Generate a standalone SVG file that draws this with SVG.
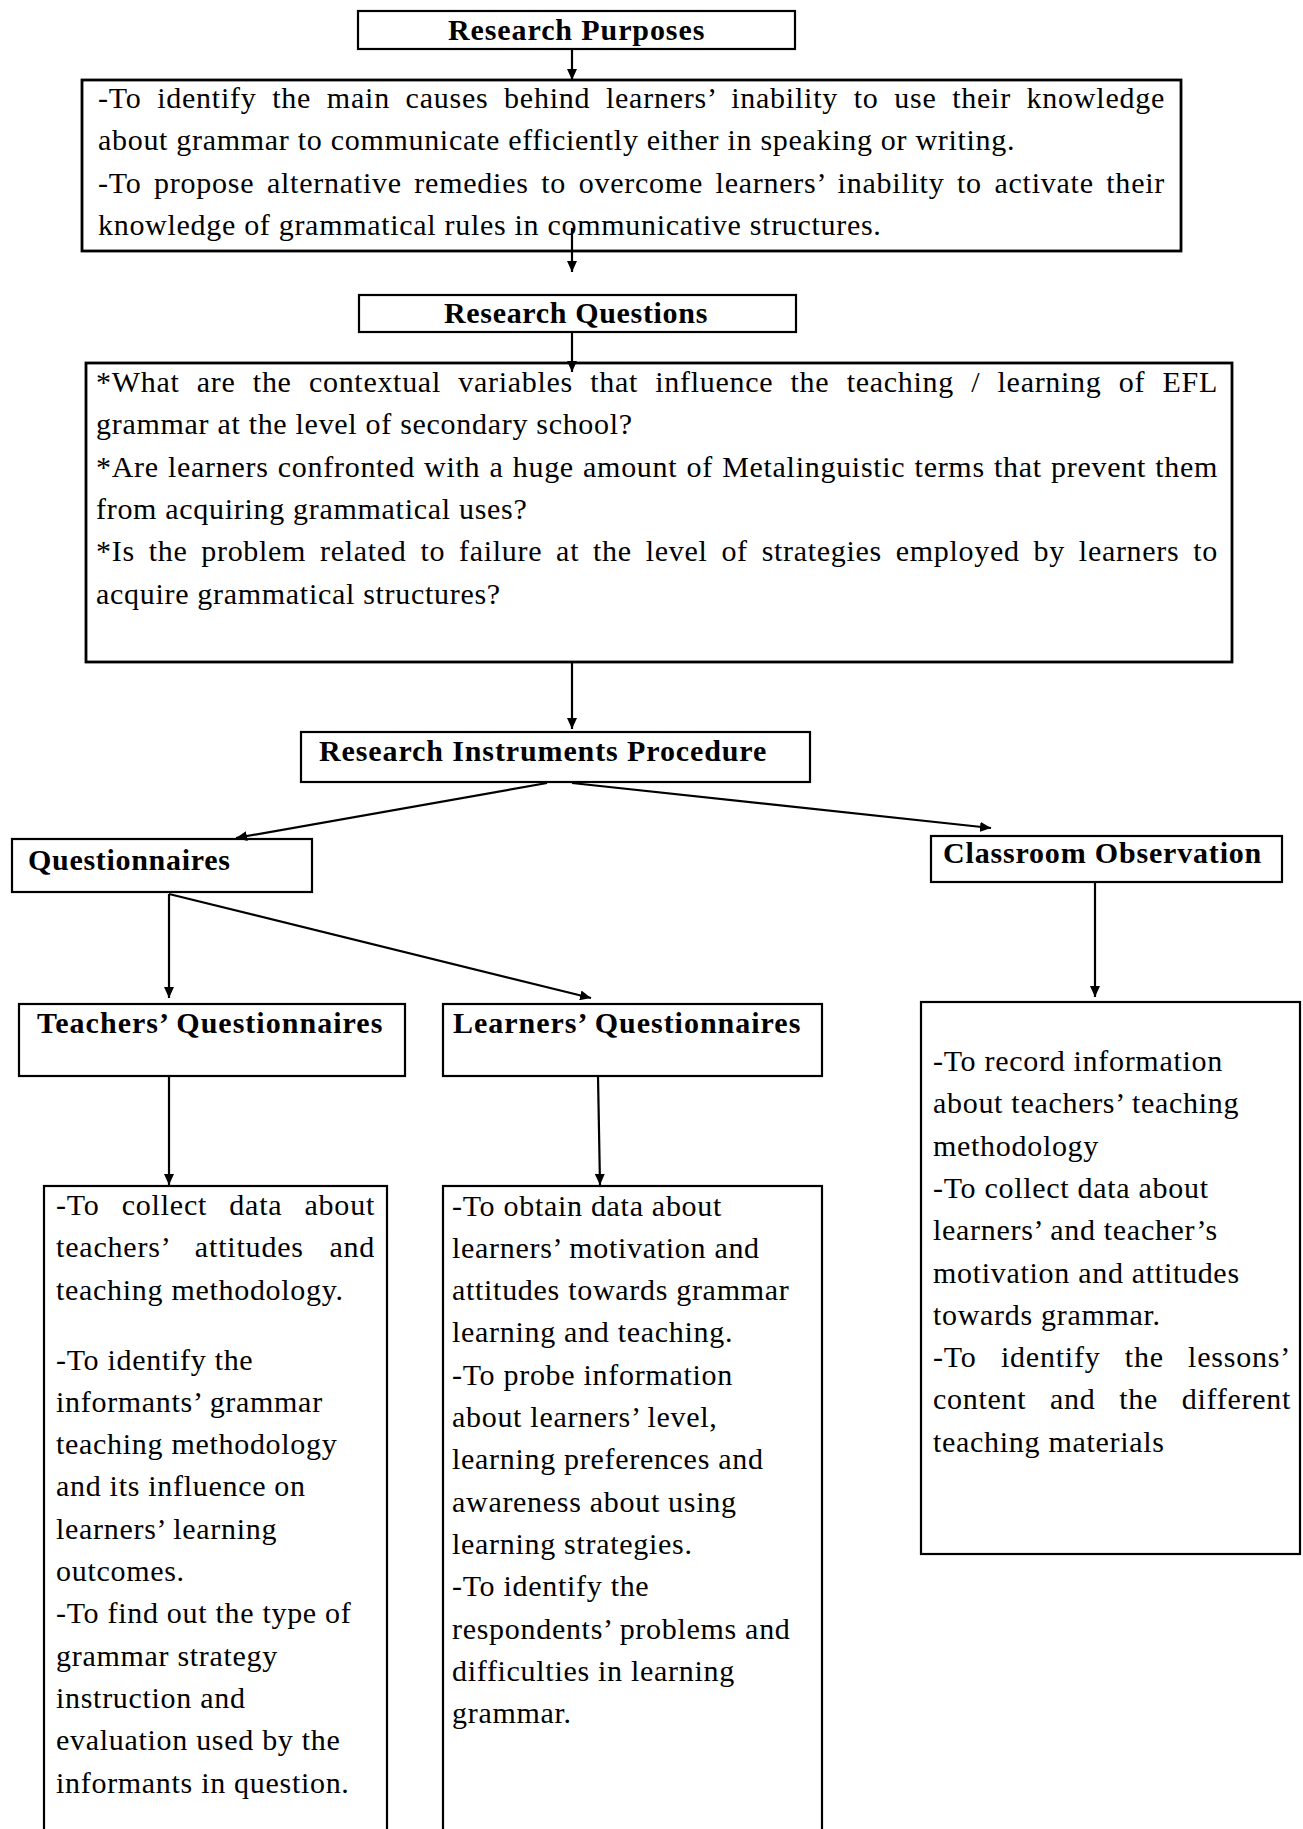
<svg xmlns="http://www.w3.org/2000/svg" width="1303" height="1829" viewBox="0 0 1303 1829">
<style>
.box{fill:none;stroke:#000;stroke-width:2.2}
.bx{fill:none;stroke:#000;stroke-width:2.8}
.t{font-family:"Liberation Serif","Times New Roman",serif;font-size:30px;letter-spacing:0.7px;fill:#000}
.h{font-family:"Liberation Serif","Times New Roman",serif;font-size:30px;font-weight:bold;letter-spacing:0.7px;fill:#000}
.c{fill:none;stroke:#000;stroke-width:2.2}
</style>
<defs>
<marker id="ah" markerUnits="userSpaceOnUse" markerWidth="12" markerHeight="10" refX="11" refY="5" orient="auto">
<path d="M0,0 L11,5 L0,10 z" fill="#000"/>
</marker>
</defs>
<rect x="0" y="0" width="1303" height="1829" fill="#fff"/>

<g id="research-purposes">
<rect class="box" x="358" y="11" width="437" height="38"/>
<text class="h" x="448" y="40" textLength="257" lengthAdjust="spacing">Research Purposes</text>
</g>

<g id="purposes-text">
<rect class="bx" x="82" y="80" width="1099" height="171"/>
<text class="t" x="98" y="108" textLength="1067" lengthAdjust="spacing" style="word-spacing:7.4px">-To identify the main causes behind learners’ inability to use their knowledge</text>
<text class="t" x="98" y="150.3">about grammar to communicate efficiently either in speaking or writing.</text>
<text class="t" x="98" y="192.6" textLength="1067" lengthAdjust="spacing" style="word-spacing:4.3px">-To propose alternative remedies to overcome learners’ inability to activate their</text>
<text class="t" x="98" y="234.9">knowledge of grammatical rules in communicative structures.</text>
</g>

<g id="research-questions">
<rect class="box" x="359" y="295" width="437" height="37"/>
<text class="h" x="444" y="323" textLength="264" lengthAdjust="spacing">Research Questions</text>
</g>

<g id="questions-text">
<rect class="bx" x="86" y="363" width="1146" height="299"/>
<text class="t" x="96" y="392" textLength="1122" lengthAdjust="spacing" style="word-spacing:9.1px">*What are the contextual variables that influence the teaching / learning of EFL</text>
<text class="t" x="96" y="434.3">grammar at the level of secondary school?</text>
<text class="t" x="96" y="476.6" textLength="1122" lengthAdjust="spacing" style="word-spacing:1px">*Are learners confronted with a huge amount of Metalinguistic terms that prevent them</text>
<text class="t" x="96" y="518.9">from acquiring grammatical uses?</text>
<text class="t" x="96" y="561.2" textLength="1122" lengthAdjust="spacing" style="word-spacing:5.7px">*Is the problem related to failure at the level of strategies employed by learners to</text>
<text class="t" x="96" y="603.5">acquire grammatical structures?</text>
</g>

<g id="research-instruments">
<rect class="box" x="301" y="732" width="509" height="50"/>
<text class="h" x="319" y="761" textLength="448" lengthAdjust="spacing">Research Instruments Procedure</text>
</g>

<g id="questionnaires">
<rect class="box" x="12" y="839" width="300" height="53"/>
<text class="h" x="28" y="870">Questionnaires</text>
</g>

<g id="classroom-observation">
<rect class="box" x="931" y="836" width="351" height="46"/>
<text class="h" x="943" y="863" textLength="319" lengthAdjust="spacing">Classroom Observation</text>
</g>

<g id="teachers-questionnaires">
<rect class="box" x="19" y="1004" width="386" height="72"/>
<text class="h" x="37" y="1033" textLength="346" lengthAdjust="spacing">Teachers’ Questionnaires</text>
</g>

<g id="learners-questionnaires">
<rect class="box" x="443" y="1004" width="379" height="72"/>
<text class="h" x="453" y="1033" textLength="348" lengthAdjust="spacing">Learners’ Questionnaires</text>
</g>

<g id="observation-text">
<rect class="box" x="921" y="1002" width="379" height="552"/>
<text class="t" x="933" y="1071">-To record information</text>
<text class="t" x="933" y="1113.3">about teachers’ teaching</text>
<text class="t" x="933" y="1155.6">methodology</text>
<text class="t" x="933" y="1197.9">-To collect data about</text>
<text class="t" x="933" y="1240.2">learners’ and teacher’s</text>
<text class="t" x="933" y="1282.5">motivation and attitudes</text>
<text class="t" x="933" y="1324.8">towards grammar.</text>
<text class="t" x="933" y="1367.1" textLength="358" lengthAdjust="spacing" style="word-spacing:16px">-To identify the lessons’</text>
<text class="t" x="933" y="1409.4" textLength="358" lengthAdjust="spacing" style="word-spacing:15.5px">content and the different</text>
<text class="t" x="933" y="1451.7">teaching materials</text>
</g>

<g id="teachers-text">
<rect class="box" x="44" y="1186" width="343" height="660"/>
<text class="t" x="56" y="1215" textLength="319" lengthAdjust="spacing" style="word-spacing:13.7px">-To collect data about</text>
<text class="t" x="56" y="1257.3" textLength="319" lengthAdjust="spacing" style="word-spacing:17.3px">teachers’ attitudes and</text>
<text class="t" x="56" y="1299.6">teaching methodology.</text>
<text class="t" x="56" y="1369.5">-To identify the</text>
<text class="t" x="56" y="1411.8">informants’ grammar</text>
<text class="t" x="56" y="1454.1">teaching methodology</text>
<text class="t" x="56" y="1496.4">and its influence on</text>
<text class="t" x="56" y="1538.7">learners’ learning</text>
<text class="t" x="56" y="1581">outcomes.</text>
<text class="t" x="56" y="1623.3">-To find out the type of</text>
<text class="t" x="56" y="1665.6">grammar strategy</text>
<text class="t" x="56" y="1707.9">instruction and</text>
<text class="t" x="56" y="1750.2">evaluation used by the</text>
<text class="t" x="56" y="1792.5">informants in question.</text>
</g>

<g id="learners-text">
<rect class="box" x="443" y="1186" width="379" height="660"/>
<text class="t" x="452" y="1215.5">-To obtain data about</text>
<text class="t" x="452" y="1257.8">learners’ motivation and</text>
<text class="t" x="452" y="1300.1">attitudes towards grammar</text>
<text class="t" x="452" y="1342.4">learning and teaching.</text>
<text class="t" x="452" y="1384.7">-To probe information</text>
<text class="t" x="452" y="1427">about learners’ level,</text>
<text class="t" x="452" y="1469.3">learning preferences and</text>
<text class="t" x="452" y="1511.6">awareness about using</text>
<text class="t" x="452" y="1553.9">learning strategies.</text>
<text class="t" x="452" y="1596.2">-To identify the</text>
<text class="t" x="452" y="1638.5">respondents’ problems and</text>
<text class="t" x="452" y="1680.8">difficulties in learning</text>
<text class="t" x="452" y="1723.1">grammar.</text>
</g>

<g id="connectors">
<line class="c" x1="572" y1="49" x2="572" y2="80" marker-end="url(#ah)"/>
<line class="c" x1="572" y1="228" x2="572" y2="272" marker-end="url(#ah)"/>
<line class="c" x1="572" y1="332" x2="572" y2="372" marker-end="url(#ah)"/>
<line class="c" x1="572" y1="662" x2="572" y2="729" marker-end="url(#ah)"/>
<line class="c" x1="547" y1="783" x2="236" y2="838" marker-end="url(#ah)"/>
<line class="c" x1="572" y1="783" x2="991" y2="828" marker-end="url(#ah)"/>
<line class="c" x1="169" y1="894" x2="169" y2="998" marker-end="url(#ah)"/>
<line class="c" x1="169" y1="894" x2="591" y2="998" marker-end="url(#ah)"/>
<line class="c" x1="1095" y1="882" x2="1095" y2="997" marker-end="url(#ah)"/>
<line class="c" x1="169" y1="1076" x2="169" y2="1185" marker-end="url(#ah)"/>
<line class="c" x1="598" y1="1076" x2="600" y2="1185" marker-end="url(#ah)"/>
</g>
</svg>
